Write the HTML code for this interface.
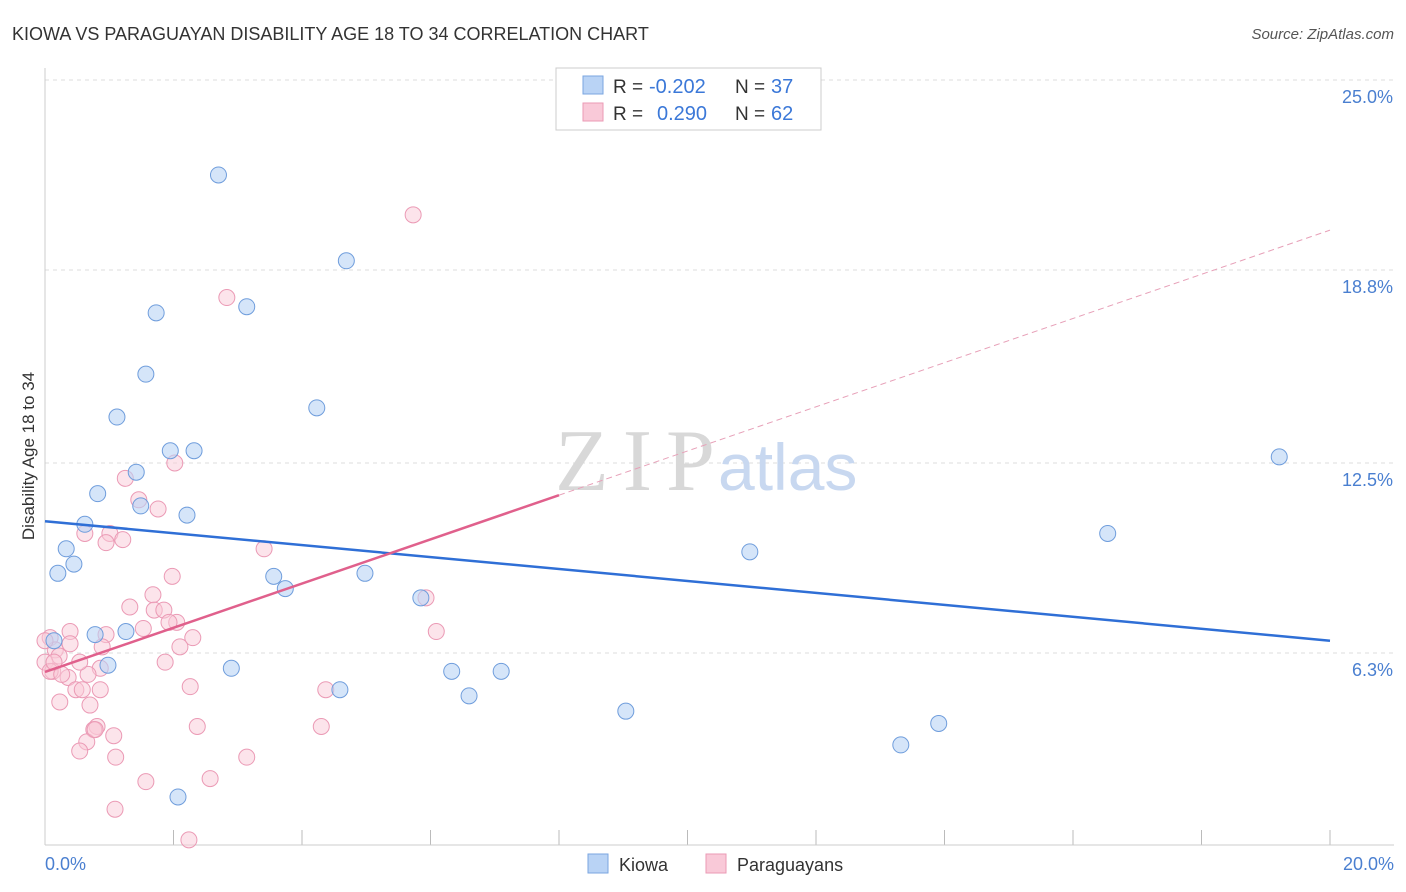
<!DOCTYPE html>
<html><head><meta charset="utf-8"><style>
body{margin:0;background:#fff;font-family:"Liberation Sans",sans-serif}
svg{display:block}
</style></head><body>
<svg width="1406" height="892">
<text x="12" y="40" font-size="18" fill="#333">KIOWA VS PARAGUAYAN DISABILITY AGE 18 TO 34 CORRELATION CHART</text>
<text x="1394" y="39" font-size="15" fill="#555" font-style="italic" text-anchor="end">Source: ZipAtlas.com</text>
<g id="grid"></g>
<line x1="45" y1="68" x2="45" y2="845" stroke="#ccc"/>
<line x1="45" y1="845" x2="1394" y2="845" stroke="#ccc"/>
<text x="555" y="490" font-size="88" fill="#d8d8d8" font-family="Liberation Serif" textLength="160">ZIP</text>
<text x="718" y="490" font-size="66" fill="#c8d8f0">atlas</text>
<text x="34" y="456" font-size="17" fill="#333" text-anchor="middle" transform="rotate(-90 34 456)">Disability Age 18 to 34</text>
<text x="45" y="870" font-size="18" fill="#4a7fd0">0.0%</text>
<text x="1394" y="870" font-size="18" fill="#4a7fd0" text-anchor="end">20.0%</text>
<g id="pts"></g>
<g id="lines"></g>
<g>
<rect x="556" y="68" width="265" height="62" fill="#fff" stroke="#ccc"/>
<rect x="583" y="76" width="20" height="18" fill="#b9d3f5" stroke="#7aa6e0"/>
<rect x="583" y="103" width="20" height="18" fill="#f9c9d8" stroke="#eb9ab5"/>
<text x="613" y="93" font-size="19" fill="#333">R =</text>
<text x="649" y="93" font-size="20" fill="#3b78d8">-0.202</text>
<text x="735" y="93" font-size="19" fill="#333">N =</text>
<text x="771" y="93" font-size="20" fill="#3b78d8">37</text>
<text x="613" y="120" font-size="19" fill="#333">R =</text>
<text x="657" y="120" font-size="20" fill="#3b78d8">0.290</text>
<text x="735" y="120" font-size="19" fill="#333">N =</text>
<text x="771" y="120" font-size="20" fill="#3b78d8">62</text>
</g>
<g>
<rect x="588" y="854" width="20" height="19" fill="#b9d3f5" stroke="#7aa6e0"/>
<text x="619" y="871" font-size="18" fill="#333">Kiowa</text>
<rect x="706" y="854" width="20" height="19" fill="#f9c9d8" stroke="#eb9ab5"/>
<text x="737" y="871" font-size="18" fill="#333">Paraguayans</text>
</g>
</svg>
<script>
const yTicks=[25,18.8,12.5,6.3];
const yTickLabels=["25.0%","18.8%","12.5%","6.3%"];
const xTicks=[0,2,4,6,8,10,12,14,16,18,20];
const kiowaX=[2.70,4.69,3.14,1.73,1.57,1.12,4.23,1.95,2.32,1.42,0.82,1.49,2.21,0.62,0.33,0.20,0.45,3.56,3.74,4.98,5.85,0.78,1.26,0.14,0.98,2.90,4.59,6.33,6.60,7.10,9.04,10.97,13.32,13.91,16.54,19.21,2.07];
const kiowaY=[21.9,19.1,17.6,17.4,15.4,14.0,14.3,12.9,12.9,12.2,11.5,11.1,10.8,10.5,9.7,8.9,9.2,8.8,8.4,8.9,8.1,6.9,7.0,6.7,5.9,5.8,5.1,5.7,4.9,5.7,4.4,9.6,3.3,4.0,10.2,12.7,1.6];
const parX=[5.73,2.83,2.02,1.25,1.46,1.76,0.62,1.01,0.95,1.21,3.41,1.98,1.68,1.32,1.70,1.85,2.05,1.93,1.53,0.95,0.39,2.30,2.10,0.89,0.39,0.08,0.16,0.22,1.87,0,0.86,0.67,0.12,0.36,0.48,2.26,4.37,0.58,0.23,0.70,4.30,2.37,0.81,0.76,1.07,0.65,0.54,1.10,3.14,1.57,2.57,1.09,2.24,6.09,5.93,0.08,0.14,0.54,0.26,0,0.78,0.86];
const parY=[20.6,17.9,12.5,12.0,11.3,11.0,10.2,10.2,9.9,10.0,9.7,8.8,8.2,7.8,7.7,7.7,7.3,7.3,7.1,6.9,7.0,6.8,6.5,6.5,6.6,6.8,6.4,6.2,6.0,6.0,5.8,5.6,5.7,5.5,5.1,5.2,5.1,5.1,4.7,4.6,3.9,3.9,3.9,3.8,3.6,3.4,3.1,2.9,2.9,2.1,2.2,1.2,0.2,7.0,8.1,5.7,6.0,6.0,5.6,6.7,3.8,5.1];
const X=v=>45+v/20*1285, Y=v=>846-v*30.64;
const NS="http://www.w3.org/2000/svg";
function mk(t,a,p){const e=document.createElementNS(NS,t);for(const k in a)e.setAttribute(k,a[k]);document.getElementById(p).appendChild(e);return e;}
yTicks.forEach((v,i)=>{
 const l=mk('line',{x1:45,x2:1394,y1:Y(v),y2:Y(v),stroke:'#ddd','stroke-dasharray':'4,4'},'grid');
 
 
 const t=mk('text',{x:1393,y:Y(v)+23,'font-size':18,fill:'#4a7fd0','text-anchor':'end'},'grid');
 t.textContent=yTickLabels[i];
 
 
});
xTicks.forEach(v=>{
 const l=mk('line',{x1:X(v),x2:X(v),y1:830,y2:845,stroke:'#bbb'},'grid');
 
 
});
parX.forEach((v,i)=>{
 const c=mk('circle',{cx:X(v),cy:Y(parY[i]),r:8,fill:'rgba(249,201,216,0.5)',stroke:'#eb9ab5','stroke-width':1},'pts');
 
 
});
kiowaX.forEach((v,i)=>{
 const c=mk('circle',{cx:X(v),cy:Y(kiowaY[i]),r:8,fill:'rgba(185,211,245,0.6)',stroke:'#6f9ddc','stroke-width':1},'pts');
 
 
});
const kl=mk('line',{x1:X(0),y1:Y(10.6),x2:X(20),y2:Y(6.7),stroke:'#2f6fd6','stroke-width':2.5},'lines');


const pl=mk('line',{x1:X(0),y1:Y(5.68),x2:X(8),y2:Y(11.45),stroke:'#e0608c','stroke-width':2.5},'lines');


const pd=mk('line',{x1:X(8),y1:Y(11.45),x2:X(20),y2:Y(20.1),stroke:'#e7a0b8','stroke-width':1,'stroke-dasharray':'6,4'},'lines');


</script>
</body></html>
